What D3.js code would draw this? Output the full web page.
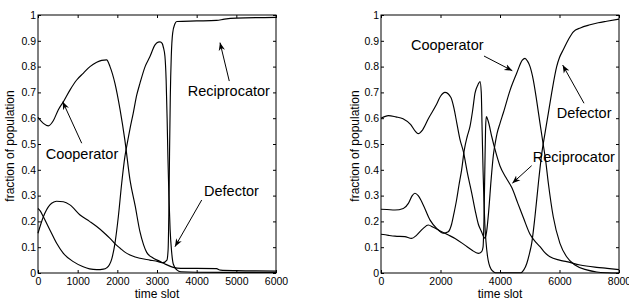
<!DOCTYPE html>
<html>
<head>
<meta charset="utf-8">
<script src="https://cdn.jsdelivr.net/npm/d3@7"></script>
<style>
  html, body { margin: 0; padding: 0; background: #fff; }
  svg { display: block; }
  text { font-family: "Liberation Sans", Arial, Helvetica, sans-serif; fill: #000; }
</style>
</head>
<body>
<svg id="chart" width="629" height="300"></svg>
<script>
// ---------- DATA (time slot, fraction of population) ----------
const leftCooperator = [[0,0.603],[135,0.58],[260,0.57],[385,0.59],[510,0.632],[640,0.664],[805,0.709],[975,0.748],[1140,0.774],[1310,0.8],[1480,0.817],[1605,0.824],[1730,0.826],[1815,0.8],[1940,0.735],[2070,0.632],[2190,0.515],[2320,0.36],[2450,0.26],[2570,0.16],[2660,0.11],[2740,0.08],[2900,0.058],[3060,0.046],[3200,0.035],[3410,0.022],[3600,0.018],[4000,0.018],[4500,0.017],[4600,0.011],[5000,0.009],[5500,0.008],[6000,0.007]];
const leftDefector = [[0,0.25],[60,0.24],[135,0.218],[300,0.167],[470,0.115],[640,0.076],[890,0.044],[1140,0.024],[1300,0.016],[1480,0.013],[1650,0.015],[1730,0.02],[1800,0.032],[1860,0.055],[1940,0.115],[2025,0.218],[2110,0.348],[2190,0.45],[2235,0.49],[2320,0.56],[2400,0.619],[2490,0.69],[2570,0.735],[2700,0.8],[2820,0.838],[2950,0.884],[3030,0.895],[3075,0.896],[3130,0.89],[3160,0.875],[3200,0.84],[3230,0.75],[3255,0.6],[3275,0.45],[3300,0.3],[3330,0.17],[3370,0.08],[3410,0.035],[3500,0.012],[3600,0.005],[4000,0.003],[6000,0.002]];
const leftReciprocator = [[0,0.154],[135,0.218],[300,0.264],[400,0.275],[470,0.278],[640,0.276],[805,0.264],[1060,0.225],[1300,0.2],[1480,0.18],[1650,0.158],[1815,0.134],[1950,0.112],[2070,0.096],[2200,0.08],[2320,0.07],[2450,0.062],[2570,0.057],[2820,0.05],[3030,0.044],[3150,0.04],[3250,0.05],[3280,0.09],[3300,0.25],[3315,0.45],[3335,0.68],[3360,0.84],[3395,0.93],[3450,0.965],[3500,0.975],[4000,0.977],[4500,0.979],[4700,0.984],[5000,0.988],[6000,0.991]];

const rightCooperator = [[0,0.6],[250,0.61],[500,0.605],[740,0.598],[1000,0.575],[1150,0.55],[1250,0.54],[1400,0.555],[1600,0.6],[1850,0.65],[2000,0.685],[2150,0.7],[2350,0.68],[2450,0.64],[2550,0.58],[2650,0.52],[2770,0.47],[2900,0.39],[3050,0.31],[3170,0.24],[3270,0.19],[3380,0.16],[3450,0.14],[3500,0.135],[3550,0.16],[3620,0.24],[3700,0.36],[3780,0.46],[3850,0.51],[3900,0.54],[4000,0.58],[4110,0.62],[4340,0.709],[4560,0.774],[4750,0.825],[4840,0.832],[4920,0.822],[5010,0.8],[5120,0.748],[5230,0.67],[5345,0.58],[5450,0.5],[5530,0.44],[5625,0.348],[5790,0.218],[6015,0.115],[6240,0.063],[6520,0.031],[6915,0.012],[7250,0.004],[7600,0.001],[8000,0]];
const rightDefector = [[0,0.247],[200,0.246],[470,0.244],[750,0.25],[920,0.27],[1050,0.3],[1140,0.309],[1250,0.3],[1420,0.264],[1650,0.205],[1870,0.173],[2090,0.154],[2260,0.16],[2375,0.19],[2450,0.23],[2540,0.283],[2620,0.34],[2710,0.4],[2800,0.477],[2900,0.53],[2990,0.567],[3080,0.63],[3160,0.697],[3260,0.73],[3330,0.742],[3370,0.7],[3400,0.55],[3430,0.4],[3460,0.28],[3490,0.19],[3530,0.12],[3580,0.065],[3630,0.035],[3700,0.015],[3780,0.005],[3850,0.001],[4700,0.001],[4800,0.012],[4900,0.037],[5000,0.08],[5065,0.115],[5175,0.218],[5290,0.348],[5400,0.46],[5510,0.54],[5625,0.62],[5740,0.7],[5905,0.8],[6000,0.835],[6130,0.866],[6300,0.905],[6465,0.935],[6700,0.95],[7025,0.962],[7300,0.97],[7585,0.976],[8000,0.984]];
const rightReciprocator = [[0,0.15],[250,0.146],[470,0.143],[800,0.141],[1030,0.134],[1200,0.147],[1420,0.173],[1590,0.186],[1760,0.177],[2040,0.16],[2250,0.148],[2490,0.134],[2820,0.108],[3050,0.089],[3270,0.076],[3385,0.083],[3430,0.1],[3460,0.2],[3490,0.4],[3515,0.56],[3540,0.606],[3600,0.59],[3720,0.53],[3830,0.48],[4000,0.415],[4200,0.37],[4400,0.33],[4600,0.27],[4800,0.21],[5010,0.15],[5200,0.12],[5345,0.102],[5500,0.08],[5680,0.063],[6000,0.05],[6240,0.044],[6690,0.031],[7250,0.022],[7600,0.018],[8000,0.013]];

const yTicks = [0,0.1,0.2,0.3,0.4,0.5,0.6,0.7,0.8,0.9,1];
const yTickLabels = ["0","0.1","0.2","0.3","0.4","0.5","0.6","0.7","0.8","0.9","1"];
const leftXTicks = [0,1000,2000,3000,4000,5000,6000];
const rightXTicks = [0,2000,4000,6000,8000];
const xLabel = "time slot";
const yLabel = "fraction of population";

// annotations (text anchor point and arrow tail/tip, in data units)
const leftNotes = [
  {label:"Reciprocator", at:[3774,0.687], from:[4822,0.744], to:[4588,0.893]},
  {label:"Cooperator",   at:[194,0.442],  from:[1102,0.503], to:[623,0.664]},
  {label:"Defector",     at:[4185,0.30],  from:[4127,0.283], to:[3453,0.102]}
];
const rightNotes = [
  {label:"Cooperator",   at:[1008,0.864], from:[3462,0.841], to:[4415,0.784]},
  {label:"Defector",     at:[5905,0.60],  from:[6824,0.658], to:[6107,0.806]},
  {label:"Reciprocator", at:[5098,0.431], from:[5064,0.416], to:[4415,0.348]}
];

// ---------- DRAW ----------
const svg = d3.select("#chart");
const defs = svg.append("defs");
defs.append("marker")
  .attr("id","arrowhead")
  .attr("viewBox","0 0 10 10")
  .attr("refX",10).attr("refY",5)
  .attr("markerWidth",8).attr("markerHeight",8)
  .attr("markerUnits","userSpaceOnUse")
  .attr("orient","auto")
  .append("path").attr("d","M0,1 L10,5 L0,9 L3,5 Z").attr("fill","#000");

function panel(cfg) {
  const x = d3.scaleLinear().domain([0, cfg.xMax]).range([cfg.x0, cfg.x1]);
  const y = d3.scaleLinear().domain([0, 1]).range([cfg.y1, cfg.y0]);
  const g = svg.append("g");

  const tickFont = "10.5px";
  const bottom = g.append("g").attr("transform",`translate(0,${cfg.y1})`)
    .call(d3.axisBottom(x).tickValues(cfg.xTicks).tickFormat(d3.format("d"))
      .tickSizeInner(-3).tickSizeOuter(0).tickPadding(4.5));
  const top = g.append("g").attr("transform",`translate(0,${cfg.y0})`)
    .call(d3.axisTop(x).tickValues(cfg.xTicks).tickFormat("").tickSizeInner(-3).tickSizeOuter(0));
  const left = g.append("g").attr("transform",`translate(${cfg.x0},0)`)
    .call(d3.axisLeft(y).tickValues(yTicks).tickFormat((d,i)=>yTickLabels[i])
      .tickSizeInner(-3).tickSizeOuter(0).tickPadding(2));
  const right = g.append("g").attr("transform",`translate(${cfg.x1},0)`)
    .call(d3.axisRight(y).tickValues(yTicks).tickFormat("").tickSizeInner(-3).tickSizeOuter(0));
  [bottom, top, left, right].forEach(a => {
    a.select(".domain").remove();
    a.selectAll("line").attr("stroke","#000").attr("stroke-width",1);
    a.selectAll("text").style("font-size",tickFont).attr("fill","#000");
  });

  g.append("rect").attr("x",cfg.x0).attr("y",cfg.y0)
    .attr("width",cfg.x1-cfg.x0).attr("height",cfg.y1-cfg.y0)
    .attr("fill","none").attr("stroke","#000").attr("stroke-width",1);

  const line = d3.line().x(d=>x(d[0])).y(d=>y(d[1])).curve(d3.curveMonotoneX);
  cfg.series.forEach(s => {
    g.append("path").datum(s).attr("d",line)
      .attr("fill","none").attr("stroke","#000").attr("stroke-width",1.15)
      .attr("stroke-linejoin","round");
  });

  g.append("text").attr("x",(cfg.x0+cfg.x1)/2).attr("y",297.5)
    .attr("text-anchor","middle").style("font-size","12px").text(xLabel);
  g.append("text").attr("transform",`translate(${cfg.yLabelX},146) rotate(-90)`)
    .attr("text-anchor","middle").style("font-size","12px").text(yLabel);

  cfg.notes.forEach(n => {
    g.append("text").attr("x",x(n.at[0])).attr("y",y(n.at[1]))
      .style("font-size","14.5px").text(n.label);
    g.append("line")
      .attr("x1",x(n.from[0])).attr("y1",y(n.from[1]))
      .attr("x2",x(n.to[0])).attr("y2",y(n.to[1]))
      .attr("stroke","#000").attr("stroke-width",1)
      .attr("marker-end","url(#arrowhead)");
  });
}

panel({x0:38, x1:276, y0:15, y1:273, xMax:6000, xTicks:leftXTicks, yLabelX:14,
       series:[leftCooperator,leftDefector,leftReciprocator], notes:leftNotes});
panel({x0:381, x1:619, y0:15, y1:273, xMax:8000, xTicks:rightXTicks, yLabelX:359,
       series:[rightCooperator,rightDefector,rightReciprocator], notes:rightNotes});
</script>
</body>
</html>
